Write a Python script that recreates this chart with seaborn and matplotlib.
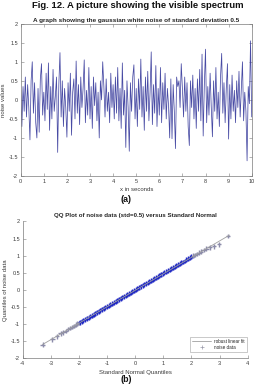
import numpy as np
import pandas as pd
import seaborn as sns
import matplotlib
matplotlib.use("Agg")
import matplotlib.pyplot as plt
from matplotlib.lines import Line2D

# ---------------- data ----------------
sample_interval = 0.05  # seconds between noise samples
noise_values = [
    0.25, -0.70, 0.35, -0.30, 0.60, -0.45, 0.40, -0.20, -1.05, 0.50,
    1.00, -0.35, 0.45, -0.60, -1.00, 0.30, -0.85, 0.55, 0.95, -0.40,
    0.20, -0.55, 0.70, -0.25, 0.97, -0.80, 0.35, -0.50, 0.80, -0.30,
    0.10, 0.60, -1.38, 0.40, 1.24, -0.45, 0.50, -0.70, 0.30, -0.20,
    -0.98, 0.45, -0.30, 0.70, -0.93, 0.20, 0.55, -0.50, 1.02, -0.35,
    0.40, -0.65, 0.60, -0.20, 0.30, 1.05, -0.60, 0.25, -0.40, 0.85,
    -0.50, 0.35, -0.75, 0.60, -0.15, 0.45, -0.55, 0.20, -1.00, 0.50,
    0.00, 1.00, 0.35, -0.45, 0.55, -0.30, 0.20, -0.60, 0.70, -0.20,
    0.40, -0.50, 0.60, -0.35, 0.85, -0.55, 0.30, -0.75, 0.97, -0.40,
    0.25, -1.25, 0.50, -0.20, -1.35, 0.45, -0.30, 0.60, 0.92, -0.50,
    0.30, -0.70, 0.55, -0.25, 1.07, -0.45, 0.35, -0.80, 0.60, -0.30,
    0.75, -0.55, 0.20, 1.26, -0.65, 0.40, -0.35, 0.90, -0.70, 0.30,
    -0.40, 0.85, -0.60, 0.45, -0.25, 0.70, -0.50, 0.30, -0.15, -1.00,
    0.55, -1.02, 0.40, -0.30, -1.28, 0.60, 0.35, 0.50, -0.20, 0.95,
    0.30, -0.45, 0.60, -0.30, 0.45, -0.70, -1.20, 0.50, -0.20, 0.65,
    -0.50, 0.30, -0.75, 0.55, -0.30, 0.80, -0.55, 1.20, -0.95, 0.40,
    1.33, -0.60, 0.35, -0.40, 0.70, -0.20, -0.97, 0.50, -0.30, 0.85,
    -0.50, 0.20, -0.70, 0.60, 1.22, -0.35, 0.45, -0.60, 0.30, 0.95,
    -1.03, 0.40, -0.50, 0.65, -0.30, 0.25, -0.60, 0.50, -0.20, 0.75,
    -0.45, 0.30, 1.00, -0.55, 0.20, -0.30, -1.60, 0.35, -0.10, 1.55,
    -0.45,
]

qq_theoretical = [
    -3.29, -2.95, -2.78, -2.65, -2.55, -2.46, -2.38, -2.31, -2.24, -2.18,
    -2.12, -2.06, -2.01, -1.96, -1.90, -1.84, -1.78, -1.72, -1.66, -1.60,
    -1.54, -1.48, -1.42, -1.36, -1.30, -1.24, -1.18, -1.12, -1.06, -1.00,
    -0.94, -0.88, -0.82, -0.76, -0.70, -0.64, -0.58, -0.52, -0.46, -0.40,
    -0.34, -0.28, -0.22, -0.16, -0.10, -0.04, 0.02, 0.08, 0.14, 0.20,
    0.26, 0.32, 0.38, 0.44, 0.50, 0.56, 0.62, 0.68, 0.74, 0.80,
    0.86, 0.92, 0.98, 1.04, 1.10, 1.16, 1.22, 1.28, 1.34, 1.40,
    1.46, 1.52, 1.58, 1.64, 1.70, 1.76, 1.82, 1.88, 1.94, 2.00,
    2.06, 2.12, 2.19, 2.26, 2.34, 2.43, 2.53, 2.65, 2.80, 2.98,
    3.30,
]
qq_sample = [
    -1.60, -1.45, -1.36, -1.27, -1.24, -1.20, -1.14, -1.12, -1.08, -1.06,
    -1.02, -0.99, -0.97, -0.95, -0.92, -0.89, -0.86, -0.84, -0.80, -0.78,
    -0.75, -0.72, -0.69, -0.66, -0.63, -0.60, -0.57, -0.54, -0.51, -0.49,
    -0.46, -0.43, -0.40, -0.37, -0.34, -0.31, -0.28, -0.25, -0.22, -0.19,
    -0.17, -0.14, -0.11, -0.08, -0.05, -0.02, 0.01, 0.04, 0.07, 0.10,
    0.13, 0.16, 0.19, 0.21, 0.24, 0.27, 0.30, 0.33, 0.36, 0.39,
    0.42, 0.45, 0.48, 0.50, 0.53, 0.56, 0.59, 0.62, 0.65, 0.68,
    0.71, 0.74, 0.77, 0.80, 0.82, 0.85, 0.88, 0.91, 0.94, 0.97,
    1.00, 1.02, 1.05, 1.09, 1.12, 1.17, 1.21, 1.24, 1.27, 1.33,
    1.57,
]
# colour group of each QQ marker: sparse tails look grey, dense core blue
qq_group = (["tail"] * 13 + ["core"] * 67 + ["tail"] * 11)
fit_x = [-3.30, 3.35]
fit_y = [-1.60, 1.60]

fig_title = "Fig. 12. A picture showing the visible spectrum"
title_a = "A graph showing the gaussian white noise of standard deviation 0.5"
title_b = "QQ Plot of noise data (std=0.5) versus Standard Normal"

# ---------------- style ----------------
sns.set_theme(style="white")
plt.rcParams["font.family"] = ["Liberation Sans", "DejaVu Sans"]
plt.rcParams["axes.unicode_minus"] = False

fig = plt.figure(figsize=(2.56, 3.86), dpi=100)

spine_col = "#7a7a7a"
tick_col = "#3a3a3a"
fs_tick = 4.0

def style_axes(ax, box):
    for side in ["left", "bottom", "top", "right"]:
        ax.spines[side].set_color(spine_col)
        ax.spines[side].set_linewidth(0.5)
    if not box:
        ax.spines["top"].set_visible(False)
        ax.spines["right"].set_visible(False)
    ax.tick_params(axis="both", which="both", direction="in", length=2,
                   width=0.4, color=spine_col, labelsize=fs_tick,
                   labelcolor=tick_col, pad=2,
                   top=box, right=box, bottom=True, left=True)

yt = [-2, -1.5, -1, -0.5, 0, 0.5, 1, 1.5, 2]
ytl = ["-2", "-1.5", "-1", "-0.5", "0", "0.5", "1", "1.5", "2"]

# ---- panel (a): noise signal ----
df_noise = pd.DataFrame({
    "t": np.arange(len(noise_values)) * sample_interval,
    "v": noise_values,
})
ax1 = fig.add_axes([0.0809, 0.544, 0.9023, 0.3946])
sns.lineplot(data=df_noise, x="t", y="v", ax=ax1, color="#34379a",
             linewidth=0.55, alpha=0.9, estimator=None)
ax1.set_xlim(0, 10)
ax1.set_ylim(-2, 2)
ax1.set_xticks(range(0, 11))
ax1.set_yticks(yt)
ax1.set_yticklabels(ytl)
ax1.set_xlabel("x in seconds", fontsize=4.3, color=tick_col, labelpad=2.5)
ax1.set_ylabel("noise values", fontsize=4.3, color=tick_col, labelpad=1.5)
ax1.set_title(title_a, fontsize=4.6, fontweight="bold", pad=1.5)
style_axes(ax1, box=True)

# ---- panel (b): QQ plot ----
ax2 = fig.add_axes([0.0887, 0.0718, 0.8789, 0.3544])
sns.lineplot(x=fit_x, y=fit_y, ax=ax2, color="#a0a0a0", linewidth=0.6)
sns.scatterplot(x=qq_theoretical, y=qq_sample, hue=qq_group,
                palette={"tail": "#8c8caa", "core": "#1f28c4"},
                ax=ax2, marker="+", s=11, linewidth=1.0, legend=False)
ax2.set_xlim(-4, 4)
ax2.set_ylim(-2, 2)
ax2.set_xticks(range(-4, 5))
ax2.set_xticklabels([str(v) for v in range(-4, 5)])
ax2.set_yticks(yt)
ax2.set_yticklabels(ytl)
ax2.set_xlabel("Standard Normal Quantiles", fontsize=4.3, color=tick_col,
               labelpad=3)
ax2.set_ylabel("Quantiles of noise data", fontsize=4.3, color=tick_col,
               labelpad=1.5)
ax2.set_title(title_b, fontsize=4.4, fontweight="bold", pad=3)
style_axes(ax2, box=False)

handles = [
    Line2D([], [], color="#a0a0a0", linewidth=0.6),
    Line2D([], [], color="#9a9aaa", linestyle="none", marker="+",
           markersize=2.5, markeredgewidth=0.5),
]
leg = ax2.legend(handles, ["robust linear fit", "noise data"],
                 loc="lower right", bbox_to_anchor=(0.995, 0.045),
                 borderaxespad=0, fontsize=3.3, frameon=True,
                 handlelength=4.2, handletextpad=0.6, borderpad=0.45,
                 labelspacing=0.3, fancybox=False)
leg.get_frame().set_edgecolor("#8a8a8a")
leg.get_frame().set_linewidth(0.4)

# ---- figure texts ----
fig.text(0.54, 1 - 5.5 / 386, fig_title, ha="center", va="center",
         fontsize=6.8, fontweight="bold", color="#111111")
fig.text(126 / 256, 1 - 199 / 386, "(a)", ha="center", va="center",
         fontsize=6.4, fontweight="bold", color="#111111")
fig.text(126 / 256, 1 - 379 / 386, "(b)", ha="center", va="center",
         fontsize=6.4, fontweight="bold", color="#111111")

fig.savefig("out.png", dpi=100)
